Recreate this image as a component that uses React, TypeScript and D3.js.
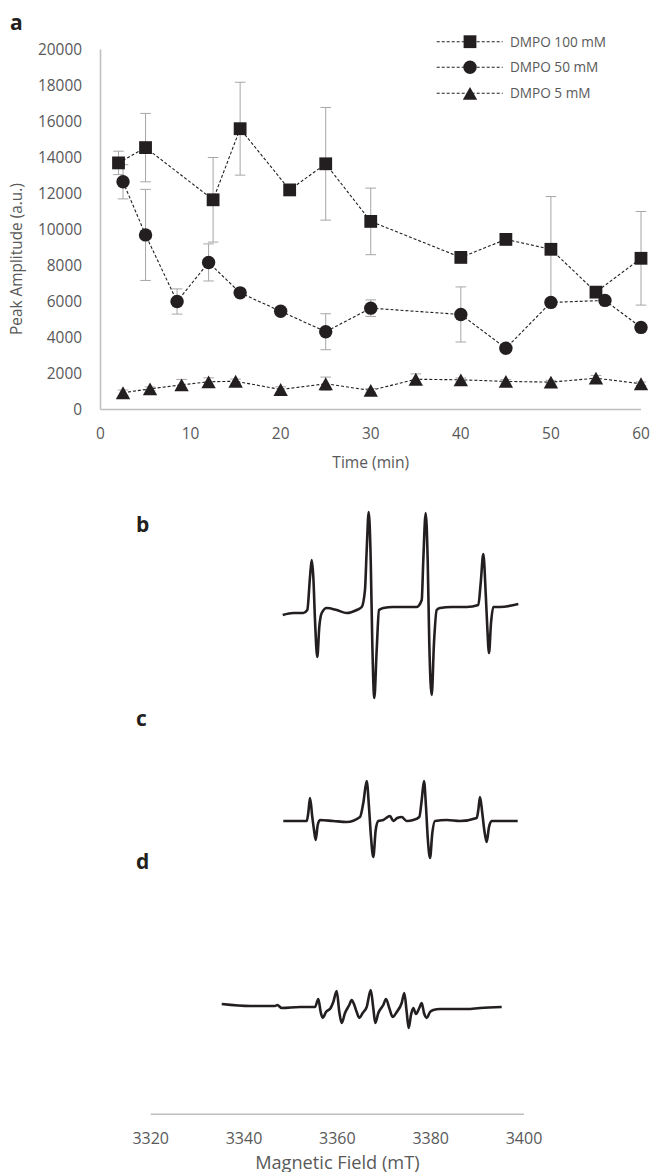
import React from "react";
import * as d3 from "d3";

// ---------- Panel a data ----------
const times100 = [2, 5, 12.5, 15.5, 21, 25, 30, 40, 45, 50, 55, 60];
const amp100 = [13700, 14550, 11650, 15600, 12200, 13650, 10450, 8450, 9450, 8900, 6520, 8400];
const err100 = [650, 1900, 2350, 2580, 300, 3130, 1850, 150, 250, 2930, 200, 2600];

const times50 = [2.5, 5, 8.5, 12, 15.5, 20, 25, 30, 40, 45, 50, 56, 60];
const amp50 = [12650, 9700, 6000, 8170, 6480, 5460, 4320, 5630, 5280, 3400, 5950, 6060, 4560];
const err50 = [950, 2530, 700, 1030, 150, 100, 1000, 460, 1530, 100, 150, 100, 100];

const times5 = [2.5, 5.5, 9, 12, 15, 20, 25, 30, 35, 40, 45, 50, 55, 60];
const amp5 = [930, 1150, 1370, 1540, 1570, 1110, 1430, 1060, 1680, 1650, 1560, 1520, 1740, 1430];
const err5 = [150, 100, 300, 220, 120, 150, 370, 100, 300, 100, 100, 100, 150, 100];

const seriesNames = ["DMPO 100 mM", "DMPO 50 mM", "DMPO 5 mM"];
const yTicks = [0, 2000, 4000, 6000, 8000, 10000, 12000, 14000, 16000, 18000, 20000];
const xTicks = [0, 10, 20, 30, 40, 50, 60];
const fieldTicks = [3320, 3340, 3360, 3380, 3400];

// ---------- EPR spectra (field mT, intensity a.u.) ----------
const fieldB = [3348.29, 3350.56, 3352.7, 3353.56, 3354.14, 3354.5, 3354.85, 3355.21, 3355.7, 3356.13, 3356.65, 3357.72, 3359.86, 3362.0, 3364.15, 3365.22, 3365.92, 3366.29, 3366.72, 3367.15, 3367.49, 3367.92, 3368.43, 3368.93, 3369.85, 3371.99, 3374.13, 3377.0, 3378.08, 3378.42, 3378.93, 3379.36, 3379.7, 3380.22, 3380.71, 3381.29, 3382.0, 3384.5, 3387.72, 3390.21, 3390.72, 3391.28, 3391.79, 3392.13, 3392.5, 3392.93, 3393.42, 3394.86, 3398.78];
const intB = [-6, -4, -4, -1, 32, 49, 32, -11, -48, -18, -4, 1, -1, -4, -1, 2, 19, 59, 97, 49, -34, -89, -41, -1, 1, 2, 2, 2, 9, 49, 96, 49, -34, -86, -34, -1, 1, 2, 2, 4, 26, 55, 16, -18, -44, -14, 2, 2, 5];

const fieldC = [3348.42, 3353.43, 3353.77, 3354.14, 3354.63, 3355.0, 3355.36, 3355.79, 3356.28, 3359.13, 3362.0, 3364.85, 3365.56, 3366.29, 3366.78, 3367.21, 3367.7, 3368.22, 3368.78, 3369.85, 3371.28, 3371.99, 3372.85, 3373.79, 3374.86, 3376.28, 3377.56, 3378.08, 3378.57, 3379.0, 3379.36, 3379.86, 3380.35, 3380.93, 3383.43, 3386.28, 3389.86, 3390.21, 3390.57, 3391.06, 3391.49, 3392.0, 3392.5, 3393.08, 3398.65];
const intC = [0, 0, 8, 23, 4, -9, -19, -4, 1, 0, -1, 4, 18, 40, 14, -16, -36, -9, 0, 1, 5, 0, 3, 4, 0, 1, 4, 21, 40, 14, -16, -37, -12, 0, 1, 0, 3, 11, 24, 8, -9, -21, -6, 0, 0];

const fieldD = [3335.22, 3341.28, 3346.64, 3347.13, 3348.07, 3352.0, 3355.21, 3355.92, 3356.43, 3356.86, 3357.57, 3358.57, 3359.13, 3359.86, 3360.42, 3360.93, 3361.64, 3362.56, 3363.07, 3363.63, 3364.15, 3364.7, 3365.43, 3366.29, 3367.15, 3367.7, 3368.13, 3368.78, 3369.85, 3370.43, 3371.13, 3371.86, 3372.72, 3373.79, 3374.35, 3374.86, 3375.29, 3375.78, 3376.28, 3376.85, 3377.56, 3378.08, 3378.57, 3379.15, 3379.86, 3380.56, 3382.0, 3387.72, 3390.57, 3395.22];
const intD = [4, 2, 2, 3, 0, 1, 1, 9, -4, -10, -4, 0, 6, 17, -4, -15, -5, 3, 8, 3, -4, -10, -5, 1, 18, 0, -15, -5, 3, 9, 0, -9, -4, 5, 15, -4, -20, -7, 0, -6, 0, 5, -5, -10, -4, -2, -1, -1, 0, 1];

const panelLabels = ["a", "b", "c", "d"];

const FONT = "'Open Sans', 'DejaVu Sans', sans-serif";
const TXT = "#595959";
const AXIS = "#bfbfbf";
const INK = "#231f20";

type Shape = "square" | "circle" | "triangle";

function Marker({ x, y, shape }: { x: number; y: number; shape: Shape }) {
  if (shape === "square") return <rect x={x - 6.4} y={y - 6.4} width={12.8} height={12.8} fill={INK} />;
  if (shape === "circle") return <circle cx={x} cy={y} r={6.7} fill={INK} />;
  return <path d={`M${x},${y - 6.4}L${x + 7.2},${y + 6.4}L${x - 7.2},${y + 6.4}Z`} fill={INK} />;
}

export default function App() {
  const W = 654, H = 1172;
  const x = d3.scaleLinear().domain([0, 60]).range([100.5, 641]);
  const y = d3.scaleLinear().domain([0, 20000]).range([409.5, 49.5]);
  const fx = d3.scaleLinear().domain([3320, 3400]).range([150.7, 524]);

  const series = [
    { t: times100, v: amp100, e: err100, shape: "square" as Shape },
    { t: times50, v: amp50, e: err50, shape: "circle" as Shape },
    { t: times5, v: amp5, e: err5, shape: "triangle" as Shape },
  ];

  const line = d3.line<[number, number]>().x((d) => x(d[0])).y((d) => y(d[1]));

  const spectra = [
    { f: fieldB, v: intB, base: 609 },
    { f: fieldC, v: intC, base: 821 },
    { f: fieldD, v: intD, base: 1008 },
  ];

  const labelPos = [
    { x: 10, y: 30 },
    { x: 136, y: 532 },
    { x: 136, y: 726 },
    { x: 136, y: 869 },
  ];

  return (
    <div style={{ position: "absolute", left: 0, top: 0 }}>
      <svg width={W} height={H} style={{ display: "block", background: "#fff" }} fontFamily={FONT}>
        {/* panel labels */}
        {panelLabels.map((l, i) => (
          <text key={l} x={labelPos[i].x} y={labelPos[i].y} fontSize={21} fontWeight={700} fill={INK}>
            {l}
          </text>
        ))}

        {/* axes of panel a */}
        <line x1={x(0)} x2={x(0)} y1={y(20000)} y2={y(0)} stroke={AXIS} strokeWidth={1.6} />
        <line x1={x(0)} x2={x(60)} y1={y(0)} y2={y(0)} stroke={AXIS} strokeWidth={1.6} />
        {yTicks.map((t) => (
          <text key={t} x={82} y={y(t)} dy="0.36em" textAnchor="end" fontSize={15.4} fill={TXT}>
            {t}
          </text>
        ))}
        {xTicks.map((t) => (
          <text key={t} x={x(t)} y={438.5} textAnchor="middle" fontSize={15.4} fill={TXT}>
            {t}
          </text>
        ))}
        <text x={x(30)} y={468} textAnchor="middle" fontSize={15.6} fill={TXT}>
          Time (min)
        </text>
        <text transform={`translate(22,335) rotate(-90)`} textAnchor="start" fontSize={15.4} fill={TXT}>
          Peak Amplitude (a.u.)
        </text>

        {/* error bars */}
        {series.map((s, si) =>
          s.t.map((t, i) => {
            const cx = x(t);
            const y1 = y(s.v[i] + s.e[i]);
            const y2 = y(s.v[i] - s.e[i]);
            return (
              <g key={`e${si}-${i}`} stroke="#a6a6a6" strokeWidth={1}>
                <line x1={cx} x2={cx} y1={y1} y2={y2} />
                <line x1={cx - 5.3} x2={cx + 5.3} y1={y1} y2={y1} />
                <line x1={cx - 5.3} x2={cx + 5.3} y1={y2} y2={y2} />
              </g>
            );
          })
        )}

        {/* series lines and markers */}
        {series.map((s, si) => (
          <g key={`s${si}`}>
            <path
              d={line(s.t.map((t, i) => [t, s.v[i]] as [number, number])) || ""}
              fill="none"
              stroke={INK}
              strokeWidth={1.1}
              strokeDasharray="3,2"
            />
            {s.t.map((t, i) => (
              <Marker key={i} x={x(t)} y={y(s.v[i])} shape={s.shape} />
            ))}
          </g>
        ))}

        {/* legend */}
        {seriesNames.map((n, i) => {
          const ly = [41.7, 67.3, 93.3][i];
          return (
            <g key={n}>
              <line x1={436.7} x2={502.7} y1={ly} y2={ly} stroke={INK} strokeWidth={1.1} strokeDasharray="3,2" />
              <Marker x={470} y={ly} shape={series[i].shape} />
              <text x={510} y={ly} dy="0.36em" fontSize={13.6} fill={TXT}>
                {n}
              </text>
            </g>
          );
        })}

        {/* spectra */}
        {spectra.map((s, si) => {
          const ys = d3.scaleLinear().domain([-100, 100]).range([s.base + 100, s.base - 100]);
          const l = d3
            .line<[number, number]>()
            .x((d) => fx(d[0]))
            .y((d) => ys(d[1]))
            .curve(d3.curveMonotoneX);
          return (
            <path
              key={`sp${si}`}
              d={l(s.f.map((f, i) => [f, s.v[i]] as [number, number])) || ""}
              fill="none"
              stroke={INK}
              strokeWidth={2.6}
              strokeLinejoin="round"
            />
          );
        })}

        {/* bottom axis */}
        <line x1={fx(3320)} x2={fx(3400)} y1={1114.3} y2={1114.3} stroke={AXIS} strokeWidth={1.6} />
        {fieldTicks.map((t) => (
          <text key={t} x={fx(t)} y={1143.5} textAnchor="middle" fontSize={16} fill={TXT}>
            {t}
          </text>
        ))}
        <text x={fx(3360)} y={1168.5} textAnchor="middle" fontSize={18.2} fill={TXT}>
          Magnetic Field (mT)
        </text>
      </svg>
    </div>
  );
}
